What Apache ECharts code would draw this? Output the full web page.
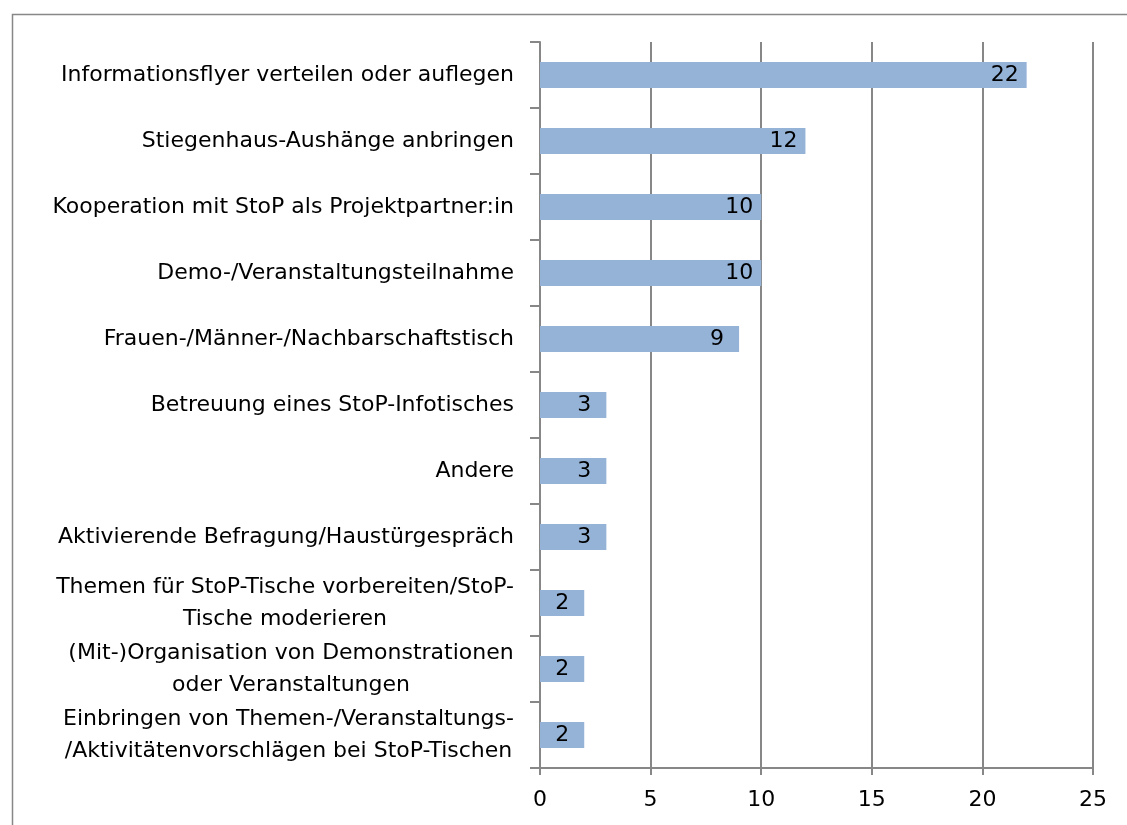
<!DOCTYPE html>
<html>
<head>
<meta charset="utf-8">
<script src="https://cdn.jsdelivr.net/npm/echarts@6/dist/echarts.min.js"></script>
<style>
  html, body { margin: 0; padding: 0; background: #fff; }
  #chart { width: 1127px; height: 825px; }
</style>
</head>
<body>
<div id="chart"></div>
<script>
const categories = [
  'Informationsflyer verteilen oder auflegen',
  'Stiegenhaus-Aushänge anbringen',
  'Kooperation mit StoP als Projektpartner:in',
  'Demo-/Veranstaltungsteilnahme',
  'Frauen-/Männer-/Nachbarschaftstisch',
  'Betreuung eines StoP-Infotisches',
  'Andere',
  'Aktivierende Befragung/Haustürgespräch',
  'Themen für StoP-Tische vorbereiten/StoP-\nTische moderieren',
  '(Mit-)Organisation von Demonstrationen\noder Veranstaltungen',
  'Einbringen von Themen-/Veranstaltungs-\n/Aktivitätenvorschlägen bei StoP-Tischen'
];
const values = [22, 12, 10, 10, 9, 3, 3, 3, 2, 2, 2];

const FONT = 'DejaVu Sans';
const FS = 22;
const gray = '#878787';

// measure text so wrapped labels can be centred line by line
const ctx = document.createElement('canvas').getContext('2d');
function lineW(txt) {
  return Math.ceil(Math.max(...txt.split('\n').map(l => ctx.measureText(l).width)));
}
function fmtLabel(txt) {
  const lines = txt.split('\n');
  if (lines.length === 1) return txt;
  return lines.map(l => '{c' + lineW(txt) + '|' + l + '}').join('\n');
}

const chart = echarts.init(document.getElementById('chart'));

ctx.font = FS + 'px "' + FONT + '"';
const rich = {};
categories.forEach(c => {
  if (c.indexOf('\n') >= 0) {
    const w = lineW(c);
    rich['c' + w] = { width: w, align: 'center', fontSize: FS, fontFamily: FONT, color: '#000', lineHeight: 32 };
  }
});

chart.setOption({
  animation: false,
  textStyle: { fontFamily: FONT },
  graphic: [{
    type: 'rect',
    left: 10, top: 12,
    shape: { width: 1140, height: 840 },
    style: { fill: 'none', stroke: gray, lineWidth: 1.5 },
    silent: true
  }],
  grid: { left: 540, top: 42, width: 553, height: 726, containLabel: false },
  xAxis: {
    type: 'value',
    min: 0, max: 25, interval: 5,
    axisLine: { show: true, lineStyle: { color: gray, width: 2 } },
    axisTick: { show: true, length: 7, lineStyle: { color: gray, width: 2 } },
    splitLine: { show: true, lineStyle: { color: gray, width: 2 } },
    axisLabel: { color: '#000', fontSize: FS, fontFamily: FONT, margin: 21 }
  },
  yAxis: {
    type: 'category',
    inverse: true,
    data: categories,
    axisLine: { show: true, lineStyle: { color: gray, width: 2 } },
    axisTick: { show: true, length: 10, lineStyle: { color: gray, width: 2 } },
    axisLabel: {
      color: '#000', fontSize: FS, fontFamily: FONT, margin: 26,
      lineHeight: 32, interval: 0,
      formatter: fmtLabel,
      rich: rich
    }
  },
  series: [{
    type: 'bar',
    data: values,
    barWidth: 26,
    itemStyle: { color: '#95B3D7' },
    label: {
      show: true,
      position: 'insideRight',
      align: 'center',
      distance: 22,
      color: '#000',
      fontSize: FS,
      fontFamily: FONT
    }
  }]
});
</script>
</body>
</html>
